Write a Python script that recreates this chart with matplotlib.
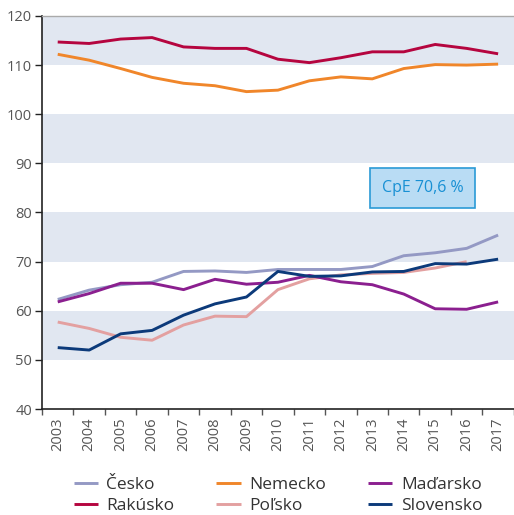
import matplotlib
matplotlib.use("Agg")
import matplotlib.pyplot as plt
import numpy as np

plt.rcParams['font.family'] = ['Open Sans', 'DejaVu Sans']

years = list(range(2003, 2018))
cesko = [62.3, 64.2, 65.3, 65.8, 68.0, 68.1, 67.8, 68.4, 68.4, 68.4, 69.0, 71.2, 71.8, 72.7, 75.4]
nemecko = [112.2, 111.0, 109.3, 107.5, 106.3, 105.8, 104.6, 104.9, 106.8, 107.6, 107.2, 109.3, 110.1, 110.0, 110.2]
madarsko = [61.8, 63.5, 65.6, 65.6, 64.3, 66.4, 65.4, 65.8, 67.2, 65.9, 65.3, 63.4, 60.4, 60.3, 61.8]
rakusko = [114.7, 114.4, 115.3, 115.6, 113.7, 113.4, 113.4, 111.2, 110.5, 111.5, 112.7, 112.7, 114.2, 113.4, 112.3]
polsko = [57.7, 56.4, 54.6, 54.0, 57.1, 58.9, 58.8, 64.3, 66.5, 67.3, 67.6, 67.8, 68.7, 70.0]
slovensko = [52.5, 52.0, 55.3, 56.0, 59.1, 61.4, 62.8, 68.0, 67.0, 67.1, 67.9, 68.0, 69.6, 69.5, 70.5]
bands = [(50, 60), (70, 80), (90, 100), (110, 120)]
note = "CpE 70,6 %"


def plot():
    fig = plt.figure(figsize=(5.14, 5.15), dpi=100)
    ax = fig.add_axes([0.0817, 0.2058, 0.918, 0.7632])

    for lo, hi in bands:
        ax.axhspan(lo, hi, color='#e1e7f1', lw=0, zorder=0)

    x = np.arange(len(years))
    series = [
        ("Česko", cesko, '#9499c4'),
        ("Rakúsko", rakusko, '#b5053f'),
        ("Nemecko", nemecko, '#f0862a'),
        ("Poľsko", polsko, '#e3a0a0'),
        ("Maďarsko", madarsko, '#8b1f8f'),
        ("Slovensko", slovensko, '#0c3a7a'),
    ]
    draw_order = ["Poľsko", "Česko", "Maďarsko", "Slovensko", "Nemecko", "Rakúsko"]
    handles = {}
    for name, vals, col in series:
        ln, = ax.plot(x[:len(vals)], vals, color=col, lw=2.1, label=name,
                      zorder=2 + draw_order.index(name), solid_capstyle='butt')
        handles[name] = ln

    ax.set_xlim(-0.5, len(years) - 0.5)
    ax.set_ylim(40, 120)
    ax.set_yticks(range(40, 121, 10))
    ax.set_xticks(x)
    ax.set_xticklabels([str(y) for y in years], rotation=90)
    ax.set_xticks(np.arange(-0.5, len(years), 1.0), minor=True)
    ax.tick_params(axis='x', which='major', length=0, pad=6, labelsize=10.5, labelcolor='#555555')
    ax.tick_params(axis='x', which='minor', length=4, width=1, color='#555555', direction='out')
    ax.tick_params(axis='y', length=5, width=1, color='#222222', labelsize=10.5, labelcolor='#555555', pad=2)

    ax.spines['right'].set_visible(False)
    ax.spines['top'].set_color('#aaaaaa')
    ax.spines['top'].set_linewidth(1)
    ax.spines['left'].set_color('#222222')
    ax.spines['bottom'].set_color('#222222')
    ax.spines['left'].set_linewidth(1.2)
    ax.spines['bottom'].set_linewidth(1.2)

    ax.text(11.6, 85, note, ha='center', va='center', fontsize=11.5, color='#1890d4',
            bbox=dict(boxstyle='square,pad=0.75', fc='#b9dcf4', ec='#2a9ad6', lw=1.2), zorder=10)

    order = ["Česko", "Rakúsko", "Nemecko", "Poľsko", "Maďarsko", "Slovensko"]
    fig.legend([handles[n] for n in order], order, ncol=3, frameon=False,
               loc='upper left', bbox_to_anchor=(0.143, 0.074), fontsize=12.5,
               labelcolor='#333333', handlelength=1.4, columnspacing=2.4,
               handletextpad=0.5, labelspacing=0.3, borderpad=0, borderaxespad=0)
    return fig


fig = plot()
fig.savefig("out.png", dpi=100)
